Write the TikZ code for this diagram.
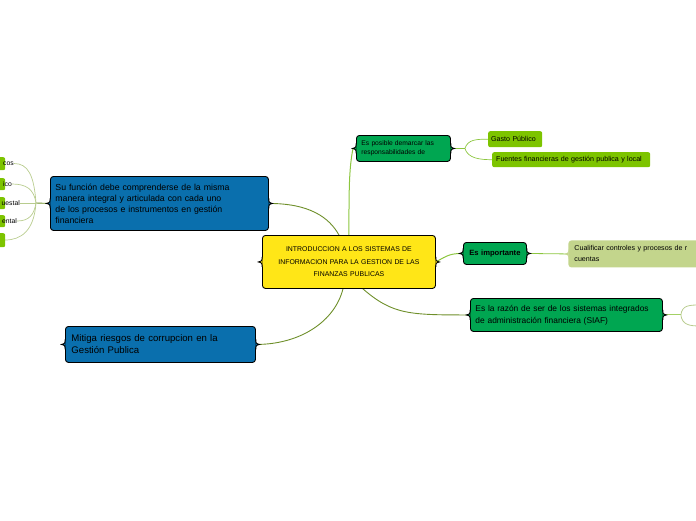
\documentclass[tikz,border=0pt]{standalone}
\usepackage{fontspec}
\setmainfont{Liberation Sans}
\usetikzlibrary{calc}
\definecolor{cyel}{HTML}{FFE617}
\definecolor{cblue}{HTML}{0A6FAD}
\definecolor{cgreen}{HTML}{00A651}
\definecolor{cleaf}{HTML}{7DC400}
\definecolor{colive}{HTML}{C3D58C}
\definecolor{lnk}{HTML}{8CC63F}
\definecolor{lnkdark}{HTML}{6E8F2A}
\definecolor{lnkpale}{HTML}{B8CC8E}
\pgfdeclarelayer{bg}
\pgfsetlayers{bg,main}
\newcommand\notchL[2]{%
  \fill[#2] ($(#1.west)+(0.6,-5)$) .. controls ($(#1.west)+(0,-1)$) .. ($(#1.west)+(-3.5,0)$) .. controls ($(#1.west)+(0,1)$) .. ($(#1.west)+(0.6,5)$) -- cycle;
  \draw[line width=0.9pt] ($(#1.west)+(0,-5)$) .. controls ($(#1.west)+(0,-1)$) .. ($(#1.west)+(-3.5,0)$) .. controls ($(#1.west)+(0,1)$) .. ($(#1.west)+(0,5)$);}
\newcommand\notchR[2]{%
  \fill[#2] ($(#1.east)+(-0.6,-5)$) .. controls ($(#1.east)+(0,-1)$) .. ($(#1.east)+(3.5,0)$) .. controls ($(#1.east)+(0,1)$) .. ($(#1.east)+(-0.6,5)$) -- cycle;
  \draw[line width=0.9pt] ($(#1.east)+(0,-5)$) .. controls ($(#1.east)+(0,-1)$) .. ($(#1.east)+(3.5,0)$) .. controls ($(#1.east)+(0,1)$) .. ($(#1.east)+(0,5)$);}
\tikzset{
  box/.style={draw=black, line width=0.9pt, rounded corners=3pt, anchor=north west, inner ysep=0pt},
  leaf/.style={draw=none, fill=cleaf, rounded corners=2pt, anchor=north west, inner ysep=0pt, inner xsep=3pt, align=left, font=\fontsize{7.1}{8}\selectfont},
  kid/.style={draw=none, fill=cleaf, rounded corners=2pt, anchor=north west, inner sep=0pt, minimum width=15pt},
  kidtext/.style={anchor=east, inner sep=0pt, font=\fontsize{6.8}{8}\selectfont},
  con/.style={draw=lnk, line width=1pt},
  condark/.style={draw=lnkdark, line width=0.9pt},
  conpale/.style={draw=lnkpale, line width=0.7pt},
}
\begin{document}
\begin{tikzpicture}[x=1pt,y=-1pt]
\useasboundingbox (0,0) rectangle (696,520);
\begin{scope}
\clip (0,0) rectangle (696,520);
% nodes
\node[box, fill=cyel, minimum width=173pt, minimum height=53pt, text width=167pt, align=center, inner xsep=3pt, font=\fontsize{6.9}{12.5}\selectfont] (central) at (262,235) {INTRODUCCION A LOS SISTEMAS DE\\INFORMACION PARA LA GESTION DE LAS\\FINANZAS PUBLICAS};
\node[box, fill=cblue, minimum width=218pt, minimum height=54pt, text width=208pt, align=left, inner xsep=5pt, font=\fontsize{8.75}{11}\selectfont] (bluetop) at (50,176) {Su función debe comprenderse de la misma\\manera integral y articulada con cada uno\\de los procesos e instrumentos en gestión\\financiera};
\node[box, fill=cblue, minimum width=190pt, minimum height=36pt, text width=178pt, align=left, inner xsep=6pt, font=\fontsize{9.6}{12}\selectfont] (bluebot) at (65,326) {Mitiga riesgos de corrupcion en la\\Gestión Publica};
\node[box, fill=cgreen, minimum width=94pt, minimum height=26pt, text width=84pt, align=left, inner xsep=5pt, font=\fontsize{6.7}{8.5}\selectfont] (espos) at (356,135) {Es posible demarcar las\\responsabilidades de};
\node[leaf, minimum width=54pt, minimum height=16pt, text width=48pt] (gasto) at (488,131) {Gasto Público};
\node[leaf, minimum width=156pt, minimum height=15pt, text width=150pt, inner xsep=4pt] (fuentes) at (492,152) {Fuentes financieras de gestión publica y local};
\node[box, fill=cgreen, minimum width=63pt, minimum height=22pt, text width=61pt, align=center, inner xsep=1pt, font=\fontsize{7.6}{9}\selectfont\bfseries] (esimp) at (463,242) {Es importante};
\node[box, draw=none, fill=colive, minimum width=150pt, minimum height=27pt, text width=140pt, align=left, inner xsep=6pt, font=\fontsize{7.1}{11}\selectfont] (cual) at (568,240) {Cualificar controles y procesos de r\\cuentas};
\node[box, fill=cgreen, minimum width=192pt, minimum height=33pt, text width=182pt, align=left, inner xsep=5pt, font=\fontsize{8.4}{12}\selectfont] (siaf) at (470,298) {Es la razón de ser de los sistemas integrados\\de administración financiera (SIAF)};
% left clipped children
\node[kid, minimum height=13pt] (k1) at (-10,157) {};
\node[kid, minimum height=12pt] (k2) at (-10,178) {};
\node[kid, minimum height=12pt] (k3) at (-10,197) {};
\node[kid, minimum height=12pt] (k4) at (-10,215) {};
\node[kid, minimum height=14pt] (k5) at (-10,233) {};
\node[kidtext] (t1) at (14,163.5) {cos};
\node[kidtext] (t2) at (12,184) {ico};
\node[kidtext] (t3) at (20,203) {uestal};
\node[kidtext] (t4) at (17,221) {ental};
\coordinate (t5) at (5,240);
\coordinate (j) at (36,203);
% notches
\notchL{central}{cyel}\notchR{central}{cyel}
\notchL{bluetop}{cblue}\notchR{bluetop}{cblue}
\notchL{bluebot}{cblue}\notchR{bluebot}{cblue}
\notchL{espos}{cgreen}\notchR{espos}{cgreen}
\notchL{esimp}{cgreen}\notchR{esimp}{cgreen}
\notchL{siaf}{cgreen}\notchR{siaf}{cgreen}
\fill[colive] ($(cual.west)+(0.6,-5)$) .. controls ($(cual.west)+(0,-1)$) .. ($(cual.west)+(-3.5,0)$) .. controls ($(cual.west)+(0,1)$) .. ($(cual.west)+(0.6,5)$) -- cycle;
\coordinate (sj) at ($(siaf.east)+(18,0)$);
\coordinate (ej) at ($(espos.east)+(14,0)$);
\coordinate (r1) at (700,305);
\coordinate (r2) at (700,326);
% connectors
\begin{pgfonlayer}{bg}
\draw[condark] (bluetop.east) .. controls +(40,0) and +(-10,-18) .. ($(central.north)+(-10,0)$);
\draw[con] (central.north) .. controls +(0,-45) and +(-4,20) .. ($(espos.west)+(-3,0)$);
\draw[condark] ($(central.south)+(-6,0)$) .. controls +(-8,32) and +(45,0) .. (bluebot.east);
\draw[condark] ($(central.south)+(14,0)$) .. controls +(30,26) and +(-60,0) .. (siaf.west);
\draw[con] (central.east) .. controls +(12,-7) and +(-12,0) .. (esimp.west);
\draw[con, line width=0.8pt] (esimp.east) -- (cual.west);
\draw[con, line width=0.7pt] (espos.east) -- (ej);
\draw[con, line width=0.7pt] (ej) .. controls +(3,-9) and +(-12,0) .. (gasto.west);
\draw[con, line width=0.7pt] (ej) .. controls +(3,10) and +(-12,0) .. (fuentes.west);
\draw[lnk!80, line width=1pt] (siaf.east) -- (sj);
\draw[lnkpale, line width=0.8pt] (sj) .. controls +(1,-10) and +(-10,0) .. (r1);
\draw[lnkpale, line width=0.8pt] (sj) .. controls +(1,10) and +(-10,0) .. (r2);
\draw[condark] (bluetop.west) -- (j);
\draw[conpale] (j) .. controls +(-2,-28) and +(14,0) .. (t1.east);
\draw[conpale] (j) .. controls +(-2,-14) and +(14,0) .. (t2.east);
\draw[conpale] (j) -- (t3.east);
\draw[conpale] (j) .. controls +(-2,12) and +(12,0) .. (t4.east);
\draw[conpale] (j) .. controls +(-2,28) and +(16,0) .. (t5);
\end{pgfonlayer}
\end{scope}
\end{tikzpicture}
\end{document}
